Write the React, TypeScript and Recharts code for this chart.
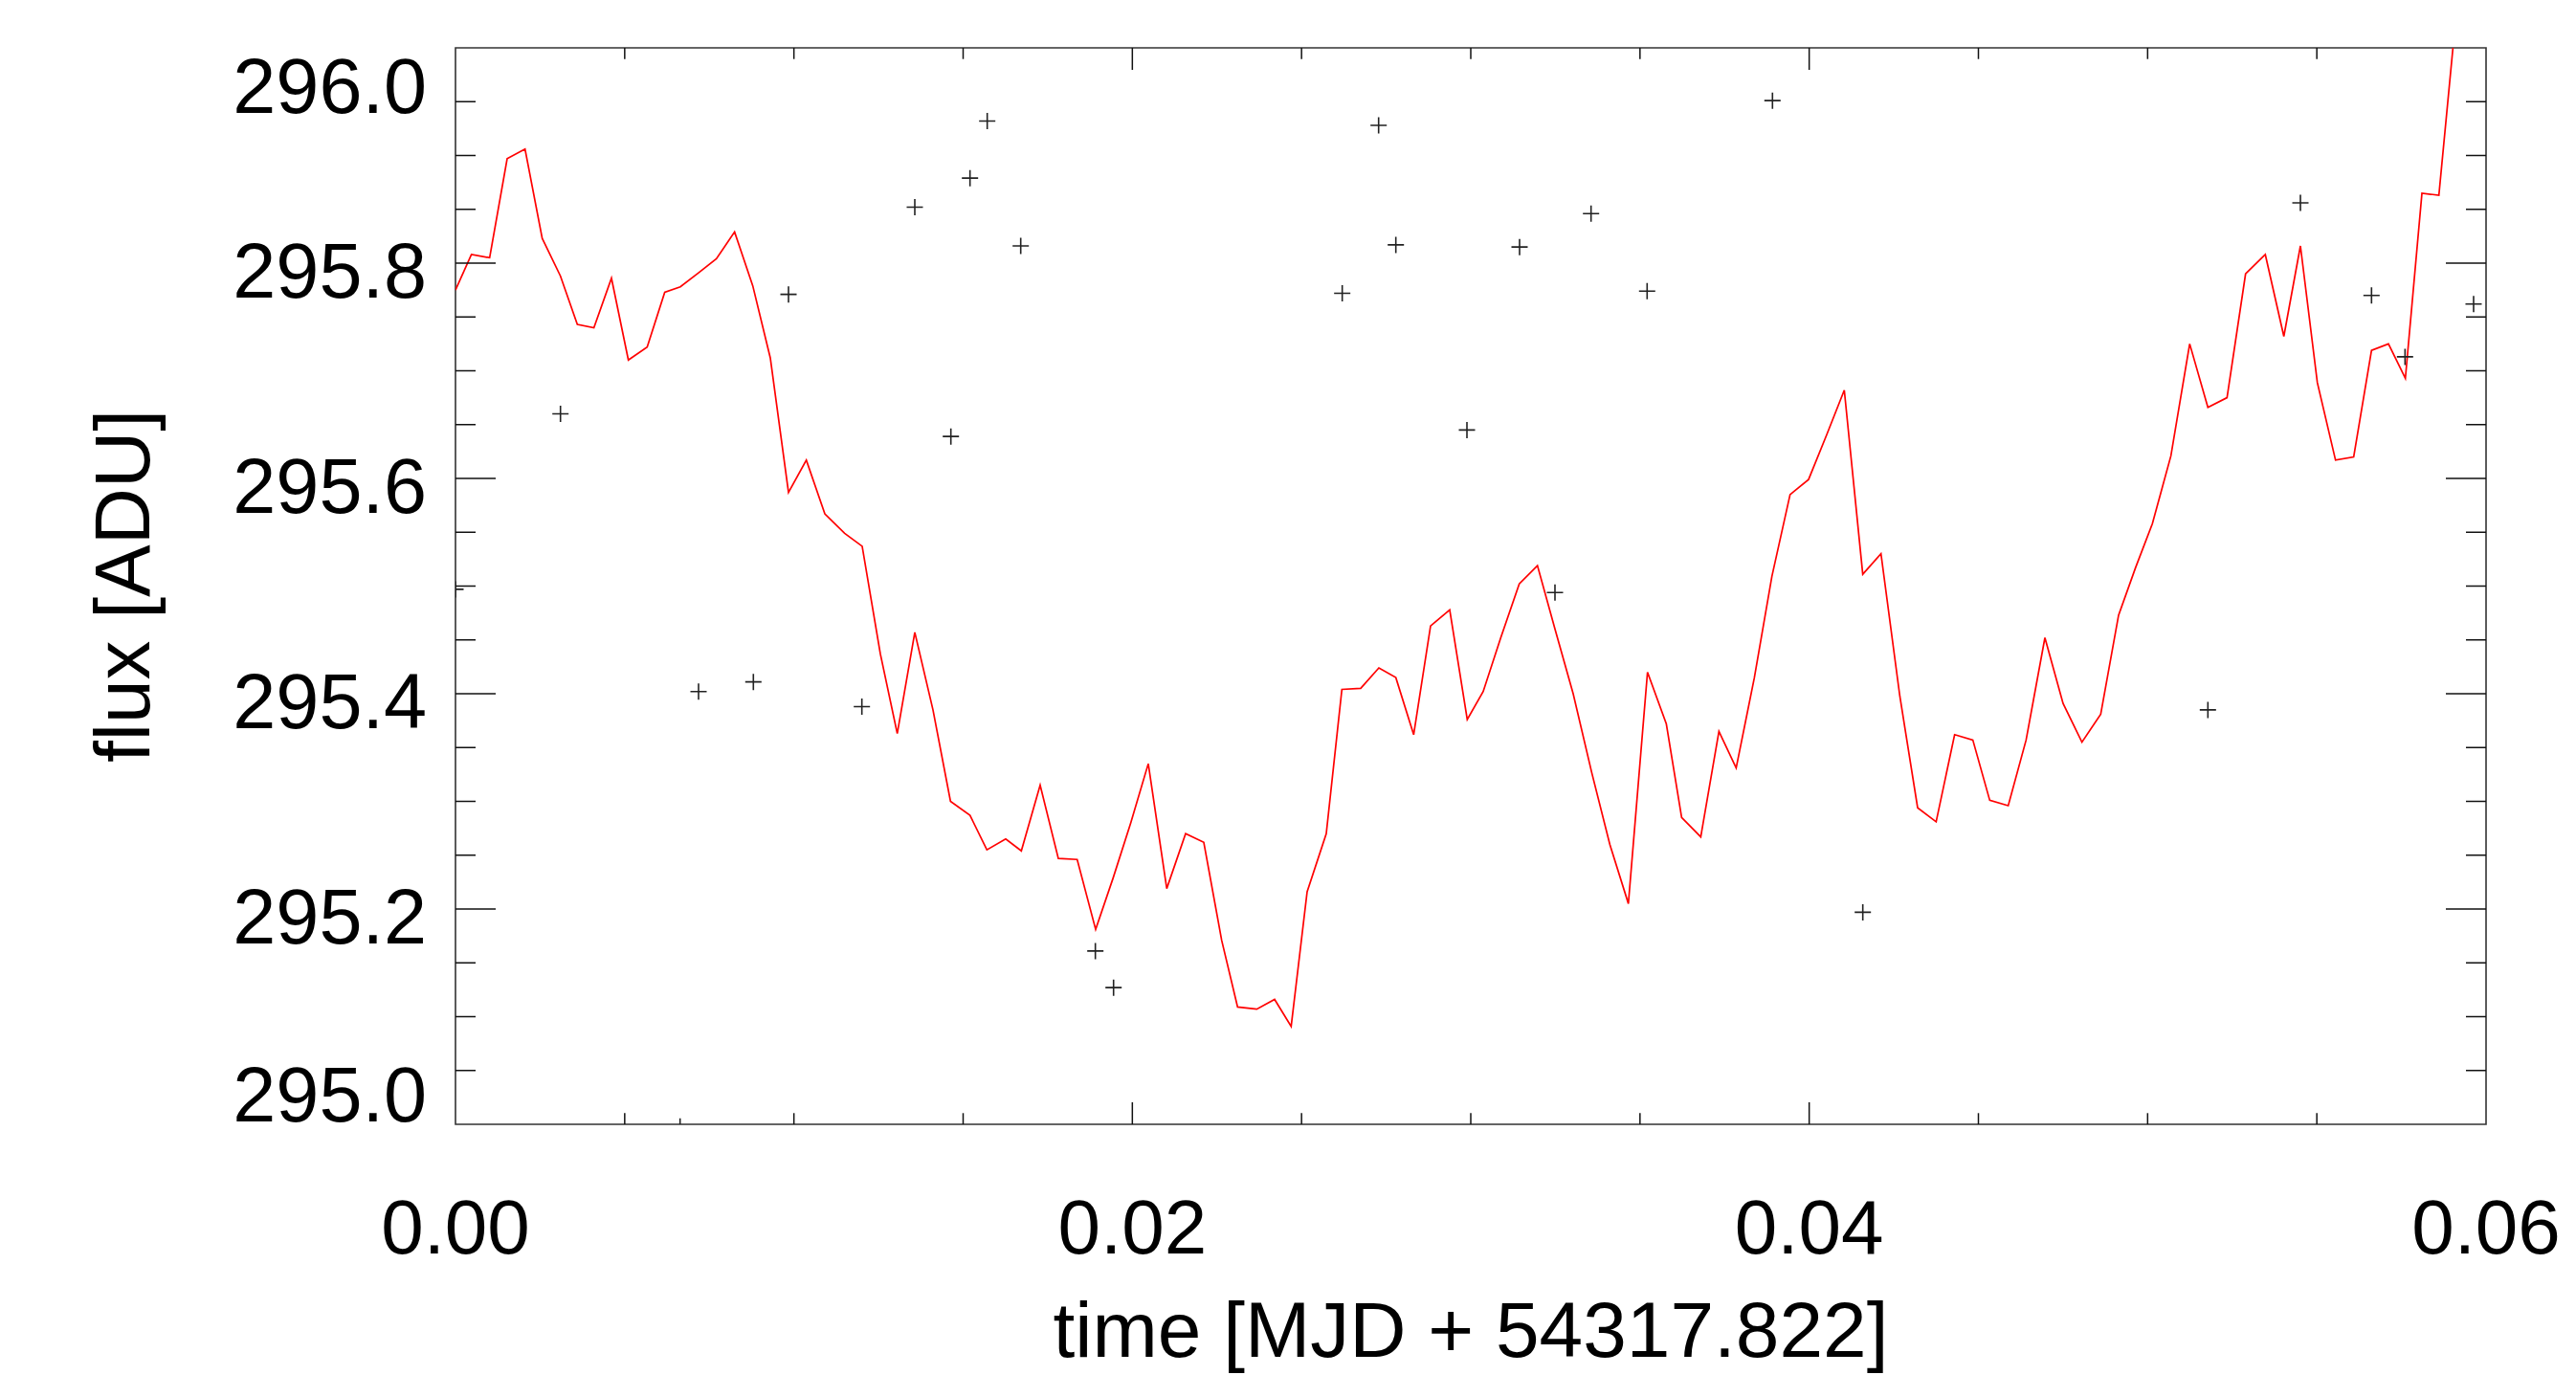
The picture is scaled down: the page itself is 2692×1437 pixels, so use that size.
import {
  ComposedChart,
  Line,
  Scatter,
  XAxis,
  YAxis,
  ReferenceArea,
} from "recharts";

// plot box in page pixels (layout only)
const PLOT = { left: 476, right: 2598, top: 50, bottom: 1175 };
const FONT = "'Liberation Sans', Arial, Helvetica, sans-serif";

// light curve (red line)
const timeLine = [
  0.0, 0.000471, 0.001009, 0.001527, 0.002055, 0.002563, 0.003101, 0.0036, 0.00409, 0.004609,
  0.005108, 0.005664, 0.006183, 0.006644, 0.007182, 0.007709, 0.008247, 0.008784, 0.009302, 0.00984,
  0.010367, 0.010914, 0.011499, 0.012017, 0.012554, 0.013054, 0.013572, 0.014109, 0.014627, 0.015203,
  0.015702, 0.016258, 0.01672, 0.017276, 0.017813, 0.01837, 0.018916, 0.019434, 0.019953, 0.020471,
  0.021017, 0.021574, 0.022111, 0.022639, 0.02311, 0.023675, 0.024204, 0.024693, 0.025165, 0.02573,
  0.026192, 0.026748, 0.027285, 0.027786, 0.028313, 0.028812, 0.029378, 0.029896, 0.030367, 0.030886,
  0.031433, 0.03197, 0.032489, 0.033026, 0.033572, 0.034109, 0.034657, 0.035222, 0.035778, 0.036231,
  0.036796, 0.037333, 0.037842, 0.03838, 0.038898, 0.039435, 0.039981, 0.04051, 0.041037, 0.041583,
  0.042121, 0.042677, 0.043204, 0.043751, 0.044297, 0.044835, 0.045335, 0.045881, 0.046409, 0.046965,
  0.047502, 0.048059, 0.048614, 0.049142, 0.049642, 0.050141, 0.050688, 0.051243, 0.051781, 0.052346,
  0.052894, 0.053477, 0.054025, 0.054515, 0.055015, 0.055552, 0.056089, 0.056616, 0.057116, 0.057616,
  0.058106, 0.058606, 0.059122,
];
const fluxLine = [
  295.775, 295.808, 295.805, 295.897, 295.906, 295.823, 295.788, 295.743, 295.74, 295.786,
  295.71, 295.722, 295.773, 295.778, 295.791, 295.804, 295.829, 295.779, 295.712, 295.587,
  295.617, 295.567, 295.549, 295.537, 295.437, 295.363, 295.457, 295.385, 295.3, 295.287,
  295.255, 295.265, 295.254, 295.315, 295.247, 295.246, 295.181, 295.229, 295.28, 295.335,
  295.219, 295.27, 295.262, 295.171, 295.109, 295.107, 295.116, 295.091, 295.216, 295.27,
  295.404, 295.405, 295.424, 295.415, 295.362, 295.463, 295.478, 295.376, 295.402, 295.452,
  295.502, 295.519, 295.46, 295.4, 295.327, 295.26, 295.205, 295.42, 295.372, 295.285,
  295.267, 295.365, 295.331, 295.415, 295.509, 295.585, 295.599, 295.64, 295.682, 295.511,
  295.53, 295.398, 295.294, 295.281, 295.362, 295.357, 295.301, 295.296, 295.357, 295.452,
  295.391, 295.355, 295.381, 295.473, 295.517, 295.558, 295.621, 295.725, 295.666, 295.675,
  295.79, 295.808, 295.732, 295.816, 295.689, 295.617, 295.62, 295.719, 295.725, 295.693,
  295.865, 295.863, 296.033,
];

// individual measurements (+ markers)
const timePts = [
  0.0, 0.003102, 0.006636, 0.007182, 0.008802, 0.00984, 0.012008, 0.013572, 0.014638, 0.015203,
  0.015712, 0.016702, 0.018907, 0.019445, 0.026202, 0.027277, 0.027786, 0.029887, 0.031442, 0.032488,
  0.033554, 0.035211, 0.038915, 0.041584, 0.051781, 0.054515, 0.056616, 0.057606, 0.059632,
];
const fluxPts = [
  295.497, 295.66, 294.998, 295.402, 295.411, 295.771, 295.388, 295.852, 295.639, 295.879,
  295.932, 295.816, 295.161, 295.127, 295.772, 295.928, 295.817, 295.645, 295.815, 295.494,
  295.846, 295.774, 295.951, 295.197, 295.385, 295.856, 295.77, 295.713, 295.762,
];

const xTicks = [
  0, 0.005, 0.01, 0.015, 0.02, 0.025, 0.03, 0.035, 0.04, 0.045, 0.05, 0.055, 0.06,
];
const xLabelTicks = [0, 0.02, 0.04, 0.06];
const yTicks = [
  295.0, 295.05, 295.1, 295.15, 295.2, 295.25, 295.3, 295.35, 295.4, 295.45, 295.5,
  295.55, 295.6, 295.65, 295.7, 295.75, 295.8, 295.85, 295.9, 295.95, 296.0,
];
const yLabelTicks = [295.0, 295.2, 295.4, 295.6, 295.8, 296.0];

const lineData = timeLine.map((t, i) => ({ t, f: fluxLine[i] }));
const pointData = timePts.map((t, i) => ({ t, f: fluxPts[i] }));

const near = (list: number[], v: number) => list.some((m) => Math.abs(m - v) < 1e-6);

function YTick(props: any) {
  const { y, payload } = props;
  const v = payload.value;
  const major = near(yLabelTicks, v);
  const len = major ? 42 : 21;
  const edge = Math.abs(v - 295) < 1e-6 || Math.abs(v - 296) < 1e-6;
  // IDL pushes the end labels inside the axis range
  let dy = 35.5;
  if (Math.abs(v - 296) < 1e-6) dy = 68.3;
  if (Math.abs(v - 295) < 1e-6) dy = -3.3;
  return (
    <g>
      {!edge && (
        <>
          <line x1={PLOT.left} x2={PLOT.left + len} y1={y} y2={y} stroke="#111" strokeWidth={1.5} />
          <line x1={PLOT.right - len} x2={PLOT.right} y1={y} y2={y} stroke="#111" strokeWidth={1.5} />
        </>
      )}
      {major && (
        <text x={446} y={y + dy} textAnchor="end" fontSize={81} fontFamily={FONT} fill="#000">
          {v.toFixed(1)}
        </text>
      )}
    </g>
  );
}

function XTick(props: any) {
  const { x, payload } = props;
  const v = payload.value;
  const major = near(xLabelTicks, v);
  const len = major ? 23 : 11.7;
  const edge = Math.abs(v) < 1e-9 || Math.abs(v - 0.06) < 1e-9;
  return (
    <g>
      {!edge && (
        <>
          <line x1={x} x2={x} y1={PLOT.bottom} y2={PLOT.bottom - len} stroke="#111" strokeWidth={1.5} />
          <line x1={x} x2={x} y1={PLOT.top} y2={PLOT.top + len} stroke="#111" strokeWidth={1.5} />
        </>
      )}
      {major && (
        <text x={x} y={1310} textAnchor="middle" fontSize={80} fontFamily={FONT} fill="#000">
          {v.toFixed(2)}
        </text>
      )}
    </g>
  );
}

const renderYTitle = (props: any) => {
  const vb = props.viewBox;
  const x = vb.x + 156;
  const y = vb.y + vb.height / 2;
  return (
    <text
      x={x}
      y={y}
      transform={`rotate(-90, ${x}, ${y})`}
      textAnchor="middle"
      fontSize={82}
      fontFamily={FONT}
      fill="#000"
    >
      flux [ADU]
    </text>
  );
};

// the reference crops the descenders; keep them just inside the frame
const renderXTitle = (props: any) => {
  const vb = props.viewBox;
  return (
    <text
      x={vb.x + vb.width / 2}
      y={vb.y + 243}
      textAnchor="middle"
      fontSize={82}
      fontFamily={FONT}
      fill="#000"
    >
      time [MJD + 54317.822]
    </text>
  );
};

const PlusMarker = (props: any) => {
  const { cx, cy } = props;
  const a = 8.5;
  return (
    <path
      d={`M${cx - a},${cy}H${cx + a}M${cx},${cy - a}V${cy + a}`}
      stroke="#222"
      strokeWidth={1.6}
      fill="none"
    />
  );
};

export default function App() {
  return (
    <div
      style={{
        position: "absolute",
        left: 0,
        top: 0,
        width: 2692,
        height: 1437,
        background: "#fff",
        overflow: "hidden",
      }}
    >
      <ComposedChart
        width={2692}
        height={1437}
        margin={{ top: PLOT.top, right: 2692 - PLOT.right, bottom: 0, left: 0 }}
      >
        <XAxis
          type="number"
          dataKey="t"
          domain={[0, 0.06]}
          ticks={xTicks}
          interval={0}
          allowDataOverflow
          height={262}
          tickSize={0}
          tickMargin={0}
          tickLine={false}
          axisLine={false}
          tick={(p: any) => <XTick {...p} />}
          label={renderXTitle}
        />
        <YAxis
          type="number"
          dataKey="f"
          domain={[295, 296]}
          ticks={yTicks}
          interval={0}
          allowDataOverflow
          width={PLOT.left}
          tickSize={0}
          tickMargin={0}
          tickLine={false}
          axisLine={false}
          tick={(p: any) => <YTick {...p} />}
          label={renderYTitle}
        />
        <ReferenceArea
          x1={0}
          x2={0.06}
          y1={295}
          y2={296}
          fill="none"
          fillOpacity={0}
          stroke="#333"
          strokeWidth={1.6}
        />
        <Line
          data={lineData}
          dataKey="f"
          type="linear"
          stroke="#ff0000"
          strokeWidth={1.7}
          dot={false}
          isAnimationActive={false}
        />
        <Scatter
          data={pointData}
          dataKey="f"
          shape={PlusMarker}
          isAnimationActive={false}
        />
      </ComposedChart>
    </div>
  );
}
